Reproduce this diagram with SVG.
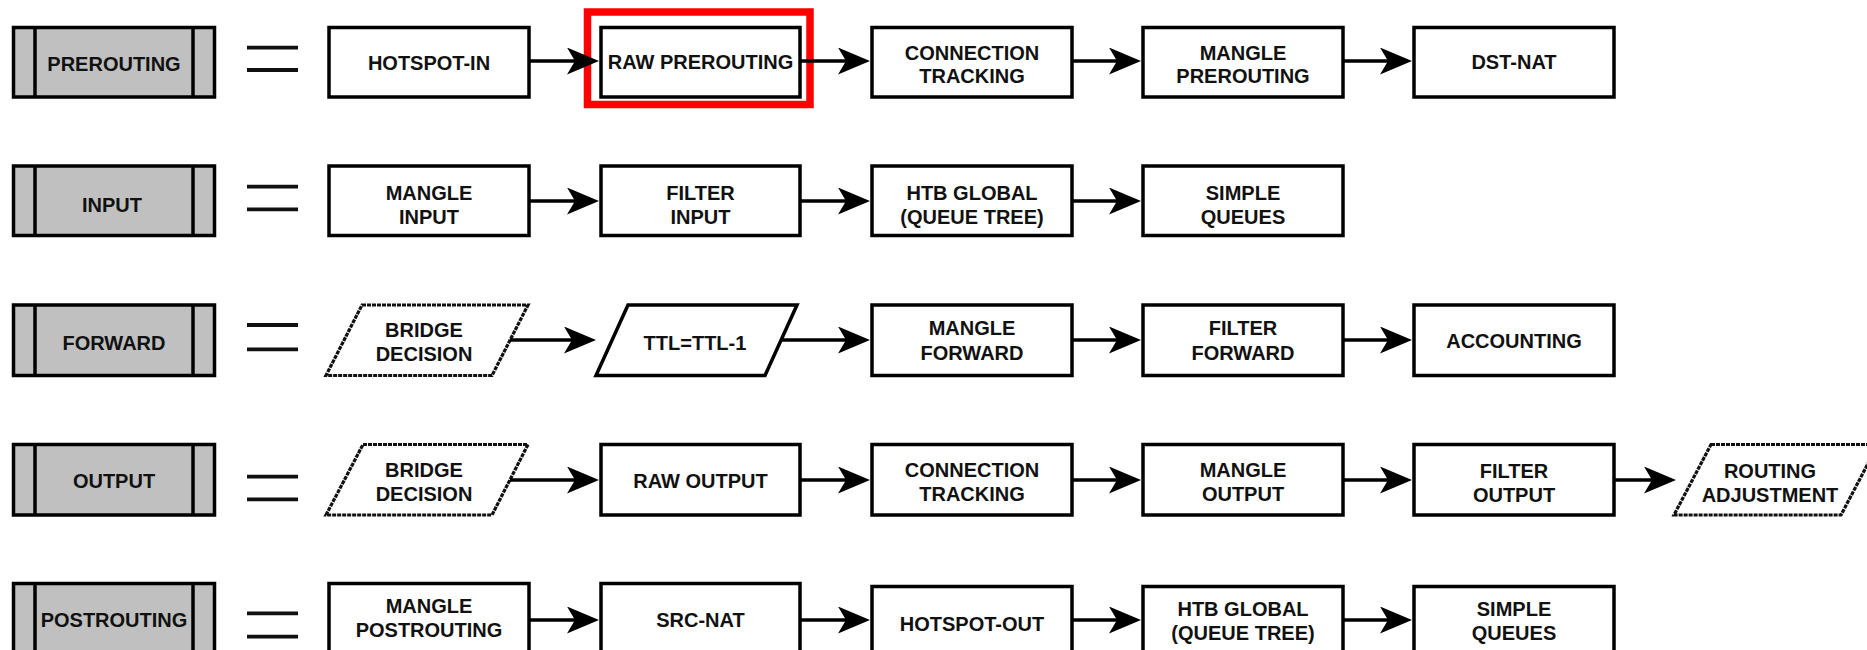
<svg xmlns="http://www.w3.org/2000/svg" width="1867" height="650" viewBox="0 0 1867 650">
<defs>
<style>
.box{fill:#fff;stroke:#000;stroke-width:3.5}
.chain{fill:#c0c0c0;stroke:#000;stroke-width:3.5}
.div{stroke:#000;stroke-width:3.5}
.dash{fill:#fff;stroke:#111;stroke-width:3.2;stroke-dasharray:4 1}
.para{fill:#fff;stroke:#000;stroke-width:3.5;stroke-linejoin:miter}
.t{font-family:"Liberation Sans",Arial,Helvetica,sans-serif;font-weight:bold;font-size:20px;text-anchor:middle;fill:#111}
.eq{stroke:#111;stroke-width:3.8}
.conn{stroke:#000;stroke-width:3.5;fill:none;marker-end:url(#arr)}
.hl{fill:none;stroke:#ff0000;stroke-width:7.5}
</style>
<marker id="arr" markerUnits="userSpaceOnUse" markerWidth="32" markerHeight="27" viewBox="0 0 32 27" refX="14" refY="13.5" orient="auto">
<path d="M0,0 L32,13.5 L0,27 L8,13.5 Z" fill="#000"/>
</marker>
</defs>
<rect width="1867" height="650" fill="#fff"/>

<!-- Row 1: PREROUTING -->
<g id="prerouting">
<rect class="chain" x="13.5" y="27.5" width="201" height="69.5"/>
<line class="div" x1="35" y1="27.5" x2="35" y2="97"/><line class="div" x1="193" y1="27.5" x2="193" y2="97"/>
<text class="t" x="114" y="70.5">PREROUTING</text>
</g>
<g id="eq1"><line class="eq" x1="247" y1="47.7" x2="298" y2="47.7"/><line class="eq" x1="247" y1="70" x2="298" y2="70"/></g>
<g id="hotspot-in"><rect class="box" x="329" y="27.5" width="200" height="69.5"/><text class="t" x="429" y="70">HOTSPOT-IN</text></g>
<g id="raw-prerouting"><rect class="box" x="601" y="27.5" width="199" height="69.5"/><text class="t" x="700.5" y="69">RAW PREROUTING</text></g>
<g id="conntrack1"><rect class="box" x="872" y="27.5" width="200" height="69.5"/><text class="t" x="972" y="59.5">CONNECTION</text><text class="t" x="972" y="83.3">TRACKING</text></g>
<g id="mangle-prerouting"><rect class="box" x="1143" y="27.5" width="200" height="69.5"/><text class="t" x="1243" y="59.5">MANGLE</text><text class="t" x="1243" y="83.3">PREROUTING</text></g>
<g id="dst-nat"><rect class="box" x="1414" y="27.5" width="200" height="69.5"/><text class="t" x="1514" y="69.3">DST-NAT</text></g>
<g id="highlight"><rect class="hl" x="587.5" y="12" width="222.5" height="92.5"/></g>

<!-- Row 2: INPUT -->
<g id="input">
<rect class="chain" x="13.5" y="166" width="201" height="69.5"/>
<line class="div" x1="35" y1="166" x2="35" y2="235.5"/><line class="div" x1="193" y1="166" x2="193" y2="235.5"/>
<text class="t" x="112" y="212">INPUT</text>
</g>
<g id="eq2"><line class="eq" x1="247" y1="186.7" x2="298" y2="186.7"/><line class="eq" x1="247" y1="209.3" x2="298" y2="209.3"/></g>
<g id="mangle-input"><rect class="box" x="329" y="166" width="200" height="69.5"/><text class="t" x="429" y="200">MANGLE</text><text class="t" x="429" y="224">INPUT</text></g>
<g id="filter-input"><rect class="box" x="601" y="166" width="199" height="69.5"/><text class="t" x="700.5" y="200">FILTER</text><text class="t" x="700.5" y="224">INPUT</text></g>
<g id="htb-global1"><rect class="box" x="872" y="166" width="200" height="69.5"/><text class="t" x="972" y="200">HTB GLOBAL</text><text class="t" x="972" y="224">(QUEUE TREE)</text></g>
<g id="simple-queues1"><rect class="box" x="1143" y="166" width="200" height="69.5"/><text class="t" x="1243" y="200">SIMPLE</text><text class="t" x="1243" y="224">QUEUES</text></g>

<!-- Row 3: FORWARD -->
<g id="forward">
<rect class="chain" x="13.5" y="305" width="201" height="70.5"/>
<line class="div" x1="35" y1="305" x2="35" y2="375.5"/><line class="div" x1="193" y1="305" x2="193" y2="375.5"/>
<text class="t" x="114" y="350">FORWARD</text>
</g>
<g id="eq3"><line class="eq" x1="247" y1="325" x2="298" y2="325"/><line class="eq" x1="247" y1="349.3" x2="298" y2="349.3"/></g>
<g id="bridge-decision1"><polygon class="dash" points="362,305 528,305 492,375.5 326,375.5"/><text class="t" x="424" y="336.7">BRIDGE</text><text class="t" x="424" y="360.7">DECISION</text></g>
<g id="ttl"><polygon class="para" points="628,305 797,305 765,375.5 596,375.5"/><text class="t" x="695" y="350">TTL=TTL-1</text></g>
<g id="mangle-forward"><rect class="box" x="872" y="305" width="200" height="70.5"/><text class="t" x="972" y="335">MANGLE</text><text class="t" x="972" y="359.5">FORWARD</text></g>
<g id="filter-forward"><rect class="box" x="1143" y="305" width="200" height="70.5"/><text class="t" x="1243" y="335">FILTER</text><text class="t" x="1243" y="359.5">FORWARD</text></g>
<g id="accounting"><rect class="box" x="1414" y="305" width="200" height="70.5"/><text class="t" x="1514" y="348">ACCOUNTING</text></g>

<!-- Row 4: OUTPUT -->
<g id="output">
<rect class="chain" x="13.5" y="444.5" width="201" height="70.5"/>
<line class="div" x1="35" y1="444.5" x2="35" y2="515"/><line class="div" x1="193" y1="444.5" x2="193" y2="515"/>
<text class="t" x="114" y="488">OUTPUT</text>
</g>
<g id="eq4"><line class="eq" x1="247" y1="476.7" x2="298" y2="476.7"/><line class="eq" x1="247" y1="499.3" x2="298" y2="499.3"/></g>
<g id="bridge-decision2"><polygon class="dash" points="363,444.5 528,444.5 492,515 326,515"/><text class="t" x="424" y="476.5">BRIDGE</text><text class="t" x="424" y="500.5">DECISION</text></g>
<g id="raw-output"><rect class="box" x="601" y="444.5" width="199" height="70.5"/><text class="t" x="700.5" y="488">RAW OUTPUT</text></g>
<g id="conntrack2"><rect class="box" x="872" y="444.5" width="200" height="70.5"/><text class="t" x="972" y="476.5">CONNECTION</text><text class="t" x="972" y="500.5">TRACKING</text></g>
<g id="mangle-output"><rect class="box" x="1143" y="444.5" width="200" height="70.5"/><text class="t" x="1243" y="477">MANGLE</text><text class="t" x="1243" y="501">OUTPUT</text></g>
<g id="filter-output"><rect class="box" x="1414" y="444.5" width="200" height="70.5"/><text class="t" x="1514" y="478">FILTER</text><text class="t" x="1514" y="502">OUTPUT</text></g>
<g id="routing-adjustment"><polygon class="dash" points="1711,444.5 1878,444.5 1841,515 1674,515"/><text class="t" x="1770" y="478">ROUTING</text><text class="t" x="1770" y="502">ADJUSTMENT</text></g>

<!-- Row 5: POSTROUTING -->
<g id="postrouting">
<rect class="chain" x="13.5" y="583.5" width="201" height="70"/>
<line class="div" x1="35" y1="583.5" x2="35" y2="653"/><line class="div" x1="193" y1="583.5" x2="193" y2="653"/>
<text class="t" x="114" y="627">POSTROUTING</text>
</g>
<g id="eq5"><line class="eq" x1="247" y1="613.3" x2="298" y2="613.3"/><line class="eq" x1="247" y1="636.7" x2="298" y2="636.7"/></g>
<g id="mangle-postrouting"><rect class="box" x="329" y="583.5" width="200" height="70"/><text class="t" x="429" y="613">MANGLE</text><text class="t" x="429" y="637">POSTROUTING</text></g>
<g id="src-nat"><rect class="box" x="601" y="583.5" width="199" height="70"/><text class="t" x="700.5" y="627">SRC-NAT</text></g>
<g id="hotspot-out"><rect class="box" x="872" y="586.5" width="200" height="70"/><text class="t" x="972" y="630.5">HOTSPOT-OUT</text></g>
<g id="htb-global2"><rect class="box" x="1143" y="586.5" width="200" height="70"/><text class="t" x="1243" y="616">HTB GLOBAL</text><text class="t" x="1243" y="640">(QUEUE TREE)</text></g>
<g id="simple-queues2"><rect class="box" x="1414" y="586.5" width="200" height="70"/><text class="t" x="1514" y="616">SIMPLE</text><text class="t" x="1514" y="640">QUEUES</text></g>

<!-- Connectors -->
<g id="connectors">
<line class="conn" x1="529" y1="61" x2="581" y2="61"/>
<line class="conn" x1="800" y1="61" x2="852" y2="61"/>
<line class="conn" x1="1072" y1="61" x2="1123" y2="61"/>
<line class="conn" x1="1343" y1="61" x2="1394" y2="61"/>

<line class="conn" x1="529" y1="201" x2="581" y2="201"/>
<line class="conn" x1="800" y1="201" x2="852" y2="201"/>
<line class="conn" x1="1072" y1="201" x2="1123" y2="201"/>

<line class="conn" x1="510" y1="340" x2="578" y2="340"/>
<line class="conn" x1="781" y1="340" x2="852" y2="340"/>
<line class="conn" x1="1072" y1="340" x2="1123" y2="340"/>
<line class="conn" x1="1343" y1="340" x2="1394" y2="340"/>

<line class="conn" x1="510" y1="480" x2="581" y2="480"/>
<line class="conn" x1="800" y1="480" x2="852" y2="480"/>
<line class="conn" x1="1072" y1="480" x2="1123" y2="480"/>
<line class="conn" x1="1343" y1="480" x2="1394" y2="480"/>
<line class="conn" x1="1614" y1="480" x2="1658" y2="480"/>

<line class="conn" x1="529" y1="620" x2="581" y2="620"/>
<line class="conn" x1="800" y1="620" x2="852" y2="620"/>
<line class="conn" x1="1072" y1="620" x2="1123" y2="620"/>
<line class="conn" x1="1343" y1="620" x2="1394" y2="620"/>
</g>
</svg>
